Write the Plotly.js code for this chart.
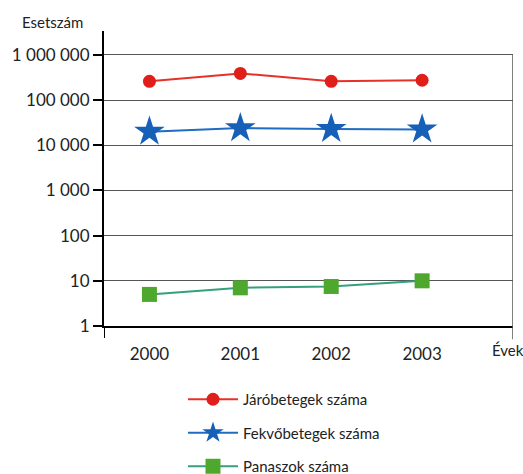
<!DOCTYPE html>
<html><head><meta charset="utf-8">
<script src="https://cdn.plot.ly/plotly-3.0.1.min.js"></script>
<style>html,body{margin:0;padding:0;background:#fff}</style>
</head><body>
<div id="chart" style="width:523px;height:474px"></div>
<script>
var years = ['2000', '2001', '2002', '2003'];
var xPos = [0, 1, 2, 3];
var jaro = [260000, 390000, 260000, 275000];
var fekvo = [20000, 24000, 23000, 22500];
var panasz = [5, 7, 7.5, 10];
var seriesNames = ['Járóbetegek száma', 'Fekvőbetegek száma', 'Panaszok száma'];
var yTickVals = [1, 10, 100, 1000, 10000, 100000, 1000000];
var yTickText = ['1', '10', '100', '1 000', '10 000', '100 000', '1 000 000'];

var font = 'Lato, "Open Sans", sans-serif';
var traces = [
  {x: xPos, y: jaro, name: seriesNames[0], legendgroup: 'a', mode: 'lines+markers',
   line: {color: '#e8302a', width: 2}, marker: {symbol: 'circle', size: 13, color: '#e01f1a'}},
  {x: xPos, y: fekvo, name: seriesNames[1], legendgroup: 'b', mode: 'lines+markers',
   line: {color: '#1f6cc2', width: 2}, marker: {symbol: 'star', size: 23, color: '#1660b8'}},
  {x: xPos, y: panasz, name: seriesNames[2], legendgroup: 'c', mode: 'lines+markers',
   line: {color: '#34a07e', width: 2}, marker: {symbol: 'square', size: 15, color: '#4ea82e'}}
];

var layout = {
  width: 523, height: 474,
  margin: {l: 104, r: 10, t: 31, b: 148, autoexpand: false},
  paper_bgcolor: '#fff', plot_bgcolor: '#fff',
  font: {family: font, color: '#222', size: 15},
  showlegend: true,
  legend: {xref: 'container', yref: 'container', x: 183 / 523, y: 1 - 383 / 474,
           xanchor: 'left', yanchor: 'top', orientation: 'v', itemwidth: 50,
           traceorder: 'grouped', tracegroupgap: 11, font: {size: 15, family: font, color: '#222'},
           bgcolor: 'rgba(0,0,0,0)'},
  xaxis: {range: [-0.5, 4.0], tickvals: xPos, ticktext: years, ticks: 'outside', ticklen: 12,
          tickcolor: 'rgba(0,0,0,0)', showgrid: false, zeroline: false, showline: true,
          linecolor: '#000', linewidth: 2, tickfont: {size: 17, family: font, color: '#222'}, fixedrange: true},
  xaxis2: {overlaying: 'x', anchor: 'y', range: [-0.5, 4.0], tickvals: [0.5, 1.5, 2.5, 3.5],
           ticks: 'outside', ticklen: 12, tickwidth: 2, tickcolor: '#000', showticklabels: false,
           showgrid: false, zeroline: false, showline: false},
  xaxis3: {overlaying: 'x', anchor: 'y', range: [-0.5, 4.0], tickvals: [0.5, 1.5, 2.5, 3.5],
           ticks: 'inside', ticklen: 10, tickwidth: 2, tickcolor: '#000', showticklabels: false,
           showgrid: false, zeroline: false, showline: false},
  yaxis: {type: 'log', range: [0, 6.53], tickvals: yTickVals, ticktext: yTickText,
          ticks: 'outside', ticklen: 9, tickwidth: 2, tickcolor: '#000', showline: true,
          linecolor: '#000', linewidth: 2, showgrid: true, gridcolor: '#555', gridwidth: 1,
          zeroline: false, tickfont: {size: 17, family: font, color: '#222'}},
  shapes: [
    {type: 'line', xref: 'x', yref: 'paper', x0: -0.5, x1: -0.5, y0: -0.041, y1: 0,
     line: {color: '#000', width: 2}},
    {type: 'line', xref: 'x', yref: 'paper', x0: 4.0, x1: 4.0, y0: -0.045, y1: 6 / 6.53,
     line: {color: '#555', width: 1.5}}
  ],
  annotations: [
    {text: 'Esetszám', xref: 'paper', yref: 'paper', x: -0.125, y: 1.03, xanchor: 'center',
     yanchor: 'middle', showarrow: false, font: {size: 15, family: font, color: '#222'}},
    {text: 'Évek', xref: 'paper', yref: 'paper', x: 0.944, y: -0.082, xanchor: 'left',
     yanchor: 'middle', showarrow: false, font: {size: 15, family: font, color: '#222'}}
  ]
};
Plotly.newPlot('chart', traces, layout, {displayModeBar: false, staticPlot: true});
</script>
</body></html>
